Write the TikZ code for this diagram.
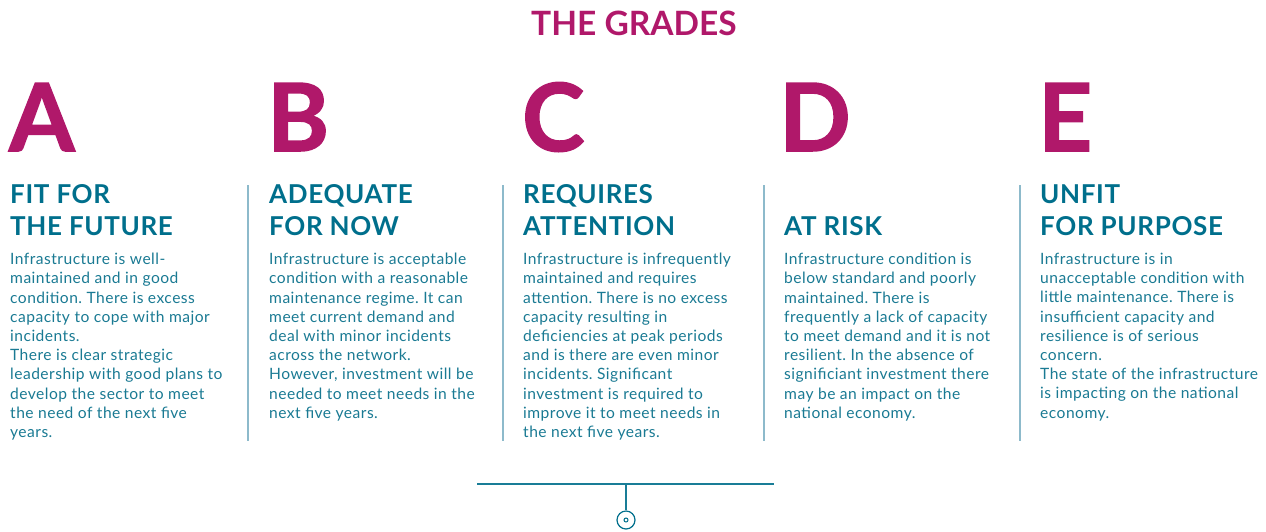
\documentclass[tikz,border=0pt]{standalone}
\usepackage{fontspec}
\setmainfont{Lato}
\newfontfamily\heavyfont[BoldFeatures={FakeBold=1.6}]{Lato}
\newfontfamily\wideheadfont[LetterSpace=2.5]{Lato}
\newfontfamily\widebodyfont[LetterSpace=3]{Lato}
\usepackage{xcolor}
\usepackage{tikz}
\usetikzlibrary{positioning}
\frenchspacing

\definecolor{grademagenta}{HTML}{B0186A}
\definecolor{headteal}{HTML}{006F8C}
\definecolor{bodyteal}{HTML}{1A7A93}
\definecolor{splitblue}{HTML}{8DBACB}

\begin{document}
\begin{tikzpicture}[x=1pt, y=-1pt]
        \tikzset{
            every node/.style={inner sep=0pt},
            title/.style={font=\fontsize{33.5}{33.5}\selectfont\bfseries, text=grademagenta, anchor=north},
            grade/.style={font=\heavyfont\fontsize{94}{94}\selectfont\bfseries, text=grademagenta, anchor=base west},
            heading/.style={font=\wideheadfont\fontsize{26}{32}\selectfont\bfseries, text=headteal, align=left, anchor=north west},
            body/.style={font=\widebodyfont\fontsize{15.6}{19.2}\selectfont, text=bodyteal, align=left, anchor=north west},
            split/.style={draw=splitblue, line width=2pt},
            base line/.style={draw=headteal!90!white, line width=1.2pt},
        }
        \useasboundingbox (0, 0) rectangle (1266, 531);

        \node[title] (title) at (634, 11) {THE GRADES};

        % grade letters
        \node[grade] (gA) at (9, 151) {A};
        \node[grade] (gB) at (267, 151) {B};
        \node[grade] (gC) at (522, 151) {C};
        \node[grade] (gD) at (779, 151) {D};
        \node[grade] (gE) at (1038, 151) {E};

        % headings
        \node[heading] (hA) at (10, 184) {FIT FOR\\THE FUTURE};
        \node[heading] (hB) at (269, 184) {ADEQUATE\\FOR NOW};
        \node[heading] (hC) at (523, 184) {REQUIRES\\ATTENTION};
        \node[heading] (hD) at (784, 216) {AT RISK};
        \node[heading] (hE) at (1040, 184) {UNFIT\\FOR PURPOSE};

        % descriptions
        \node[body] (tA) at (10, 253) {Infrastructure is well-\\maintained and in good\\condition. There is excess\\capacity to cope with major\\incidents.\\There is clear strategic\\leadership with good plans to\\develop the sector to meet\\the need of the next five\\years.};
        \node[body] (tB) at (269, 253) {Infrastructure is acceptable\\condition with a reasonable\\maintenance regime. It can\\meet current demand and\\deal with minor incidents\\across the network.\\However, investment will be\\needed to meet needs in the\\next five years.};
        \node[body] (tC) at (523, 253) {Infrastructure is infrequently\\maintained and requires\\attention. There is no excess\\capacity resulting in\\deficiencies at peak periods\\and is there are even minor\\incidents. Significant\\investment is required to\\improve it to meet needs in\\the next five years.};
        \node[body] (tD) at (784, 253) {Infrastructure condition is\\below standard and poorly\\maintained. There is\\frequently a lack of capacity\\to meet demand and it is not\\resilient. In the absence of\\significiant investment there\\may be an impact on the\\national economy.};
        \node[body] (tE) at (1040, 253) {Infrastructure is in\\unacceptable condition with\\little maintenance. There is\\insufficient capacity and\\resilience is of serious\\concern.\\The state of the infrastructure\\is impacting on the national\\economy.};

        % dividers
        \foreach \sx in {248, 503, 764, 1020}
            \draw[split] (\sx, 185) -- (\sx, 441);

        % bottom marker
        \coordinate (bl) at (477, 484);
        \coordinate (br) at (774, 484);
        \coordinate (bm) at (626, 484);
        \node[draw=headteal, line width=1.2pt, circle, minimum size=18pt] (ring) at (626, 520) {};
        \node[draw=headteal, line width=1pt, circle, minimum size=4pt] (dot) at (ring.center) {};
        \draw[base line] (bl) -- (br);
        \draw[base line] (bm) -- (ring.north);
    \end{tikzpicture}
\end{document}
